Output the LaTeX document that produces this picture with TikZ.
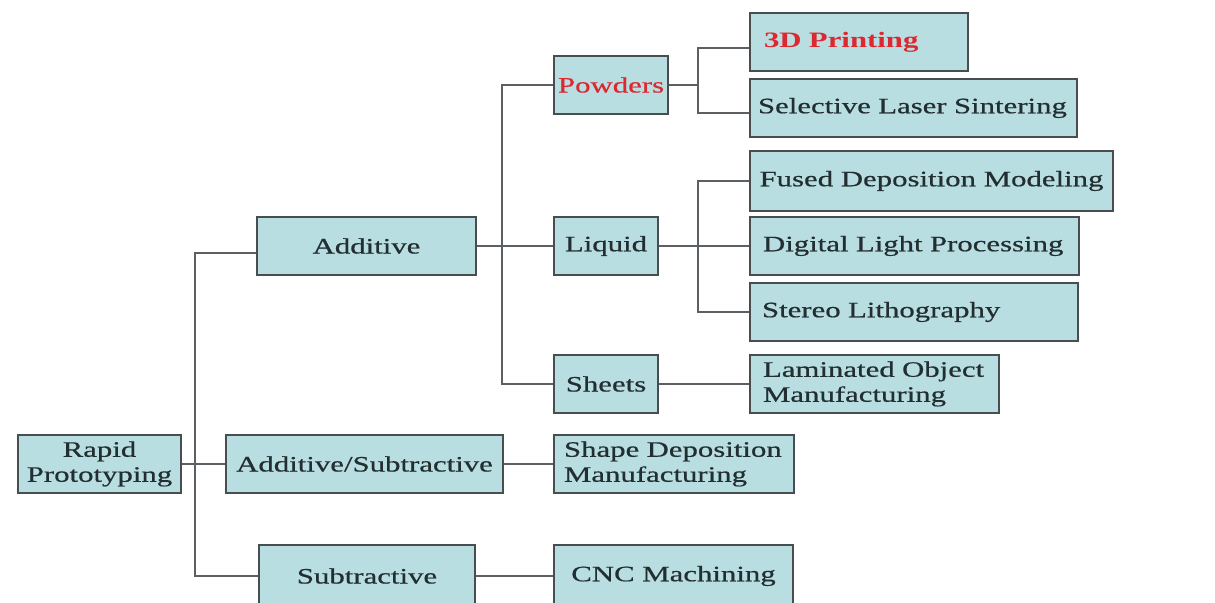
\documentclass[tikz,border=0pt]{standalone}
\usepackage{fontspec}
\setmainfont{Liberation Serif}[FakeStretch=1.4,
  UprightFeatures={FakeBold=0.6}]
\definecolor{boxfill}{RGB}{184,222,226}
\definecolor{boxedge}{RGB}{72,78,80}
\definecolor{wire}{RGB}{92,96,98}
\definecolor{ink}{RGB}{34,46,48}
\definecolor{hot}{RGB}{222,40,48}
\tikzset{
  box/.style={draw=boxedge, fill=boxfill, line width=1pt, anchor=north west,
    inner ysep=0pt, minimum height=29pt, text=ink,
    font=\fontsize{11}{12.5}\selectfont},
  mid/.style={box, inner xsep=2pt, align=center},
  lft/.style={box, align=left},
  wire/.style={draw=wire, line width=1pt}
}
\begin{document}
\begin{tikzpicture}[x=0.5pt, y=-0.5pt]
\useasboundingbox (0,0) rectangle (1215,603);
% root
\node[mid, minimum width=81.5pt] (rp) at (17,434) {Rapid\\Prototyping};
% first level
\node[mid, minimum width=109.5pt] (add) at (256,216) {Additive};
\node[mid, minimum width=138.5pt] (as) at (225,434) {Additive/Subtractive};
\node[mid, minimum width=108pt, minimum height=31pt] (sub) at (258,544) {Subtractive};
% second level
\node[mid, minimum width=56.5pt, text=hot] (pow) at (553,55) {Powders};
\node[mid, minimum width=52pt] (liq) at (553,216) {Liquid};
\node[mid, minimum width=52pt] (sh) at (553,354) {Sheets};
\node[lft, inner xsep=5pt, text width=110pt] (sdm) at (553,434) {Shape Deposition\\Manufacturing};
\node[mid, minimum width=119.5pt, minimum height=31pt] (cnc) at (553,544) {CNC Machining};
% processes
\node[lft, inner xsep=7pt, text width=95pt, text=hot,
      font=\fontsize{11}{12.5}\selectfont\bfseries] (tdp) at (749,12) {3D Printing};
\node[lft, inner xsep=4pt, text width=155.5pt] (sls) at (749,78) {Selective Laser Sintering};
\node[mid, minimum width=181.5pt, minimum height=30pt] (fdm) at (749,150) {Fused Deposition Modeling};
\node[lft, inner xsep=6.5pt, text width=151.5pt] (dlp) at (749,216) {Digital Light Processing};
\node[lft, inner xsep=6pt, text width=152pt] (sl) at (749,282) {Stereo Lithography};
\node[lft, inner xsep=6.5pt, text width=111.5pt] (lom) at (749,354) {Laminated Object\\Manufacturing};
% branch columns
\coordinate (t0) at (195,0);
\coordinate (t1) at (502,0);
\coordinate (t2) at (698,0);
% root branches
\draw[wire] (rp.east) -- (as.west);
\draw[wire] ([yshift=-3.5pt]add.west) -| (t0 |- sub.west) -- (sub.west);
% additive branches
\draw[wire] (add.east) -- (liq.west);
\draw[wire] (pow.west) -| (t1 |- sh.west) -- (sh.west);
% powders
\draw[wire] (pow.east) -- (t2 |- pow.east);
\draw[wire] (tdp.west |- 0,48) -| (t2 |- 0,113) -- (sls.west |- 0,113);
% liquid
\draw[wire] (liq.east) -- (dlp.west);
\draw[wire] (fdm.west) -| (t2 |- sl.west) -- (sl.west);
% remaining leaves
\draw[wire] (sh.east) -- (lom.west);
\draw[wire] (as.east) -- (sdm.west);
\draw[wire] (sub.east) -- (cnc.west);
\end{tikzpicture}
\end{document}
